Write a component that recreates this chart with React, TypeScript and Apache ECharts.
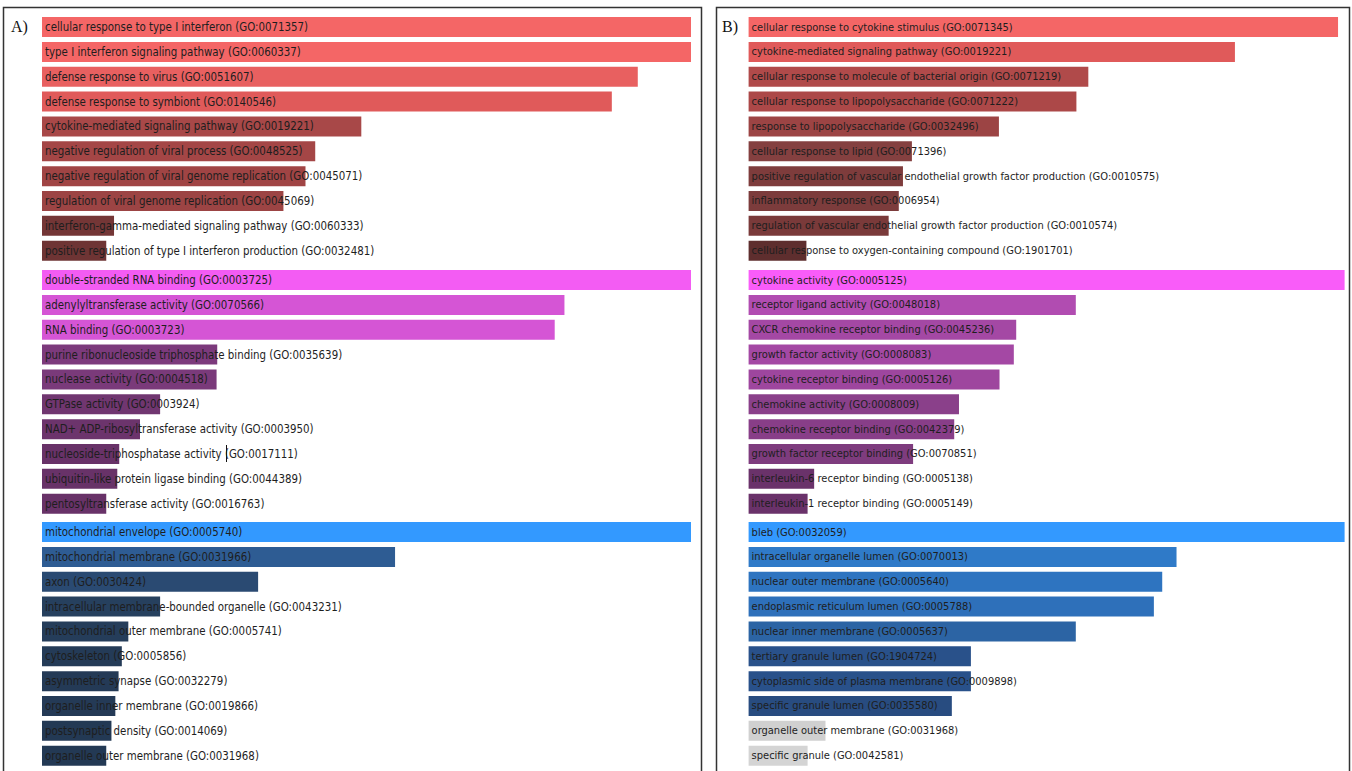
import React, { useEffect, useRef } from "react";
import * as echarts from "echarts";

// ---------- Panel A ----------
const aBpTerms = [
  "cellular response to type I interferon (GO:0071357)",
  "type I interferon signaling pathway (GO:0060337)",
  "defense response to virus (GO:0051607)",
  "defense response to symbiont (GO:0140546)",
  "cytokine-mediated signaling pathway (GO:0019221)",
  "negative regulation of viral process (GO:0048525)",
  "negative regulation of viral genome replication (GO:0045071)",
  "regulation of viral genome replication (GO:0045069)",
  "interferon-gamma-mediated signaling pathway (GO:0060333)",
  "positive regulation of type I interferon production (GO:0032481)",
];
const aBpScores = [100, 100, 91.8, 87.8, 49.2, 42.1, 40.6, 37.2, 11.1, 9.9];

const aMfTerms = [
  "double-stranded RNA binding (GO:0003725)",
  "adenylyltransferase activity (GO:0070566)",
  "RNA binding (GO:0003723)",
  "purine ribonucleoside triphosphate binding (GO:0035639)",
  "nuclease activity (GO:0004518)",
  "GTPase activity (GO:0003924)",
  "NAD+ ADP-ribosyltransferase activity (GO:0003950)",
  "nucleoside-triphosphatase activity (GO:0017111)",
  "ubiquitin-like protein ligase binding (GO:0044389)",
  "pentosyltransferase activity (GO:0016763)",
];
const aMfScores = [100, 80.5, 79.0, 27.0, 26.9, 18.2, 15.1, 11.9, 11.6, 9.9];

const aCcTerms = [
  "mitochondrial envelope (GO:0005740)",
  "mitochondrial membrane (GO:0031966)",
  "axon (GO:0030424)",
  "intracellular membrane-bounded organelle (GO:0043231)",
  "mitochondrial outer membrane (GO:0005741)",
  "cytoskeleton (GO:0005856)",
  "asymmetric synapse (GO:0032279)",
  "organelle inner membrane (GO:0019866)",
  "postsynaptic density (GO:0014069)",
  "organelle outer membrane (GO:0031968)",
];
const aCcScores = [100, 54.4, 33.3, 18.2, 13.3, 12.3, 11.8, 11.3, 10.7, 9.9];

// ---------- Panel B ----------
const bBpTerms = [
  "cellular response to cytokine stimulus (GO:0071345)",
  "cytokine-mediated signaling pathway (GO:0019221)",
  "cellular response to molecule of bacterial origin (GO:0071219)",
  "cellular response to lipopolysaccharide (GO:0071222)",
  "response to lipopolysaccharide (GO:0032496)",
  "cellular response to lipid (GO:0071396)",
  "positive regulation of vascular endothelial growth factor production (GO:0010575)",
  "inflammatory response (GO:0006954)",
  "regulation of vascular endothelial growth factor production (GO:0010574)",
  "cellular response to oxygen-containing compound (GO:1901701)",
];
const bBpScores = [98.9, 81.6, 57.0, 55.0, 42.0, 27.4, 25.9, 25.2, 23.5, 9.7];

const bMfTerms = [
  "cytokine activity (GO:0005125)",
  "receptor ligand activity (GO:0048018)",
  "CXCR chemokine receptor binding (GO:0045236)",
  "growth factor activity (GO:0008083)",
  "cytokine receptor binding (GO:0005126)",
  "chemokine activity (GO:0008009)",
  "chemokine receptor binding (GO:0042379)",
  "growth factor receptor binding (GO:0070851)",
  "interleukin-6 receptor binding (GO:0005138)",
  "interleukin-1 receptor binding (GO:0005149)",
];
const bMfScores = [100, 54.9, 44.9, 44.5, 42.1, 35.3, 34.5, 27.6, 11.0, 9.9];

const bCcTerms = [
  "bleb (GO:0032059)",
  "intracellular organelle lumen (GO:0070013)",
  "nuclear outer membrane (GO:0005640)",
  "endoplasmic reticulum lumen (GO:0005788)",
  "nuclear inner membrane (GO:0005637)",
  "tertiary granule lumen (GO:1904724)",
  "cytoplasmic side of plasma membrane (GO:0009898)",
  "specific granule lumen (GO:0035580)",
  "organelle outer membrane (GO:0031968)",
  "specific granule (GO:0042581)",
];
const bCcScores = [100, 71.8, 69.4, 68.0, 54.9, 37.3, 37.3, 34.1, 12.9, 9.9];

// ---------- Styles ----------
const aBpColors = ["#F46666", "#F46666", "#E86060", "#E05A5A", "#A84848", "#A44646", "#A04444", "#9C4444", "#743636", "#6E3434"];
const aMfColors = ["#F35CF3", "#D555D5", "#D555D5", "#7C3A7C", "#7A3A7A", "#703670", "#6C346C", "#683268", "#683268", "#683268"];
const aCcColors = ["#3399FF", "#2E5C93", "#2A4A72", "#26405E", "#253D5A", "#243B57", "#243A56", "#243A56", "#233954", "#233954"];
const bBpColors = ["#F46666", "#E05A5A", "#B04A4A", "#AC4848", "#9C4444", "#844040", "#7E3C3C", "#7C3C3C", "#7A3A3A", "#5E2E2E"];
const bMfColors = ["#F95CF9", "#B14CB1", "#A448A4", "#A448A4", "#9E469E", "#8A408A", "#883E88", "#7E3C7E", "#6A326A", "#6A326A"];
const bCcColors = ["#3399FF", "#2F7AC8", "#2E74C0", "#2E70BA", "#2C64A4", "#29518A", "#29518A", "#284C80", "#D0D0D0", "#D4D4D4"];

const groups = [
  { terms: aBpTerms, scores: aBpScores, colors: aBpColors, panel: 0, row: 0 },
  { terms: aMfTerms, scores: aMfScores, colors: aMfColors, panel: 0, row: 1 },
  { terms: aCcTerms, scores: aCcScores, colors: aCcColors, panel: 0, row: 2 },
  { terms: bBpTerms, scores: bBpScores, colors: bBpColors, panel: 1, row: 0 },
  { terms: bMfTerms, scores: bMfScores, colors: bMfColors, panel: 1, row: 1 },
  { terms: bCcTerms, scores: bCcScores, colors: bCcColors, panel: 1, row: 2 },
];

const panelLeft = [42, 748.6];
const panelWidth = [649, 596];
const panelFont = [11.4, 11];
const rowTop = [14.6, 267.6, 519.6];
const groupHeight = 248.5;

export default function App() {
  const ref = useRef<HTMLDivElement>(null);

  useEffect(() => {
    if (!ref.current) return;
    const chart = echarts.init(ref.current, undefined, { renderer: "svg" });

    const grids = groups.map((g) => ({
      left: panelLeft[g.panel],
      width: panelWidth[g.panel],
      top: rowTop[g.row],
      height: groupHeight,
      containLabel: false,
    }));
    const xAxes = groups.map((_, i) => ({
      type: "value",
      gridIndex: i,
      min: 0,
      max: 100,
      show: false,
    }));
    const yAxes = groups.map((g, i) => ({
      type: "category",
      gridIndex: i,
      data: g.terms,
      inverse: true,
      show: false,
    }));
    const series = groups.map((g, i) => ({
      type: "bar",
      xAxisIndex: i,
      yAxisIndex: i,
      barWidth: 20,
      silent: true,
      data: g.scores.map((v, k) => ({ value: v, itemStyle: { color: g.colors[k] } })),
      label: {
        show: true,
        position: "insideLeft",
        distance: 3,
        formatter: "{b}",
        color: "#1e1e1e",
        fontSize: panelFont[g.panel],
        fontFamily: "'DejaVu Sans Condensed', 'DejaVu Sans', sans-serif",
      },
    }));

    chart.setOption({
      animation: false,
      backgroundColor: "#ffffff",
      grid: grids,
      xAxis: xAxes,
      yAxis: yAxes,
      series,
      graphic: [
        {
          type: "rect",
          shape: { x: 3.5, y: 7.5, width: 698, height: 800 },
          style: { fill: "none", stroke: "#333", lineWidth: 1.5 },
          silent: true,
        },
        {
          type: "rect",
          shape: { x: 716.5, y: 7.5, width: 633, height: 800 },
          style: { fill: "none", stroke: "#333", lineWidth: 1.5 },
          silent: true,
        },
        {
          type: "text",
          left: 11,
          top: 18,
          style: { text: "A)", fontSize: 16, fontFamily: "Liberation Serif", fill: "#111" },
        },
        {
          type: "text",
          left: 722,
          top: 18,
          style: { text: "B)", fontSize: 16, fontFamily: "Liberation Serif", fill: "#111" },
        },
        {
          type: "line",
          shape: { x1: 226.5, y1: 445, x2: 226.5, y2: 462 },
          style: { stroke: "#111", lineWidth: 1 },
          silent: true,
        },
      ],
    });

    return () => chart.dispose();
  }, []);

  return (
    <div
      ref={ref}
      style={{ position: "fixed", left: 0, top: 0, width: 1352, height: 771, background: "#fff" }}
    />
  );
}
